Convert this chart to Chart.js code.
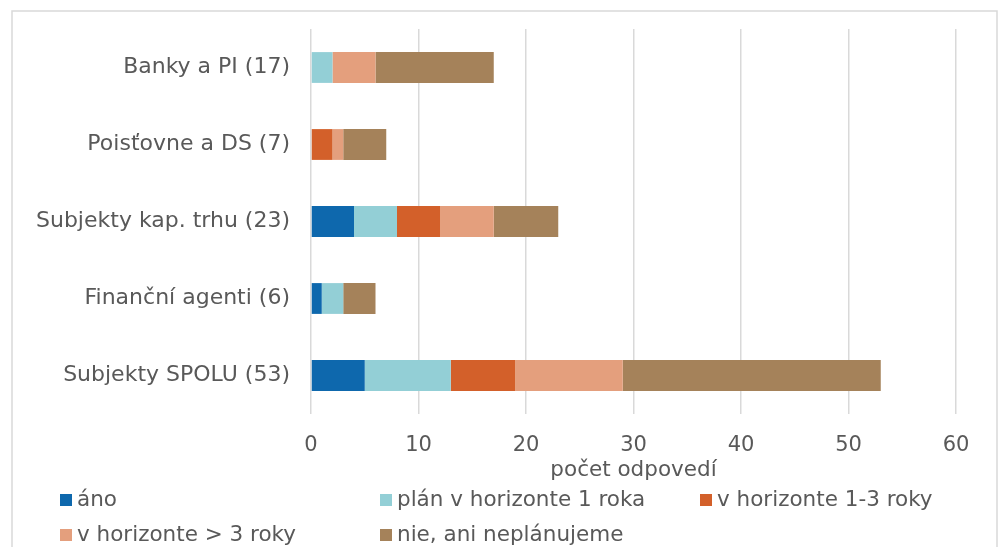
<!DOCTYPE html>
<html>
<head>
<meta charset="utf-8">
<script src="https://cdn.jsdelivr.net/npm/chart.js@4"></script>
<style>
  html, body { margin: 0; padding: 0; background: #ffffff; }
  #wrap { width: 999px; height: 547px; }
</style>
</head>
<body>
<div id="wrap"><canvas id="c" width="999" height="547"></canvas></div>
<script>
const categories = ['Banky a PI (17)', 'Poisťovne a DS (7)', 'Subjekty kap. trhu (23)', 'Finanční agenti (6)', 'Subjekty SPOLU (53)'];
const seriesNames = ['áno', 'plán v horizonte 1 roka', 'v horizonte 1-3 roky', 'v horizonte > 3 roky', 'nie, ani neplánujeme'];
const ano        = [0, 0, 4, 1, 5];
const plan1      = [2, 0, 4, 2, 8];
const horiz13    = [0, 2, 4, 0, 6];
const horiz3     = [4, 1, 5, 0, 10];
const nie        = [11, 4, 6, 3, 24];
const xTicks     = [0, 10, 20, 30, 40, 50, 60];
const colors     = ['#0e68ad', '#93cfd6', '#d3602a', '#e49f7d', '#a5825a'];

const FONT = 'DejaVu Sans';
const TEXT = '#595959';
const GRID = '#d9d9d9';

const values = [ano, plan1, horiz13, horiz3, nie];
const datasets = seriesNames.map((name, i) => ({
  label: name,
  data: values[i],
  backgroundColor: colors[i],
  borderWidth: 0,
  barPercentage: 0.4,
  categoryPercentage: 1.0
}));

// frame around the chart
const framePlugin = {
  id: 'frame',
  beforeDraw(chart) {
    const ctx = chart.ctx;
    ctx.save();
    ctx.fillStyle = '#ffffff';
    ctx.fillRect(0, 0, chart.width, chart.height);
    ctx.strokeStyle = GRID;
    ctx.lineWidth = 1.5;
    ctx.strokeRect(12, 11, 985, 600);
    ctx.restore();
  }
};

// legend laid out in a three-column grid below the axis
const gridLegend = {
  id: 'gridLegend',
  afterDraw(chart) {
    const ctx = chart.ctx;
    const colX = [60, 380, 700];
    const rowY = [500, 535];
    ctx.save();
    ctx.font = '21.5px "' + FONT + '"';
    ctx.textBaseline = 'middle';
    ctx.textAlign = 'left';
    chart.data.datasets.forEach((ds, i) => {
      const x = colX[i % 3];
      const y = rowY[Math.floor(i / 3)];
      ctx.fillStyle = ds.backgroundColor;
      ctx.fillRect(x, y - 6, 12, 12);
      ctx.fillStyle = TEXT;
      ctx.fillText(ds.label, x + 17, y);
    });
    ctx.restore();
  }
};

new Chart(document.getElementById('c'), {
  type: 'bar',
  data: { labels: categories, datasets },
  plugins: [framePlugin, gridLegend],
  options: {
    indexAxis: 'y',
    responsive: false,
    animation: false,
    layout: { padding: { left: 12, top: 29, right: 43, bottom: 65 } },
    plugins: {
      legend: { display: false },
      tooltip: { enabled: false }
    },
    scales: {
      x: {
        stacked: true,
        min: xTicks[0],
        max: xTicks[xTicks.length - 1],
        afterBuildTicks(axis) { axis.ticks = xTicks.map(v => ({ value: v })); },
        afterFit(axis) { axis.height = 68; axis.paddingLeft = 0; axis.paddingRight = 0; },
        border: { display: false },
        grid: { color: GRID, lineWidth: 1.5, drawTicks: false },
        ticks: { color: TEXT, font: { family: FONT, size: 21 }, padding: 19 },
        title: {
          display: true,
          text: 'počet odpovedí',
          color: TEXT,
          font: { family: FONT, size: 21.5 },
          padding: { top: 0, bottom: -1 }
        }
      },
      y: {
        stacked: true,
        afterFit(axis) { axis.width = 299; axis.paddingTop = 0; axis.paddingBottom = 0; },
        border: { display: false },
        grid: { display: false, drawTicks: false },
        ticks: { color: TEXT, font: { family: FONT, size: 22 }, padding: 21 }
      }
    }
  }
});
</script>
</body>
</html>
